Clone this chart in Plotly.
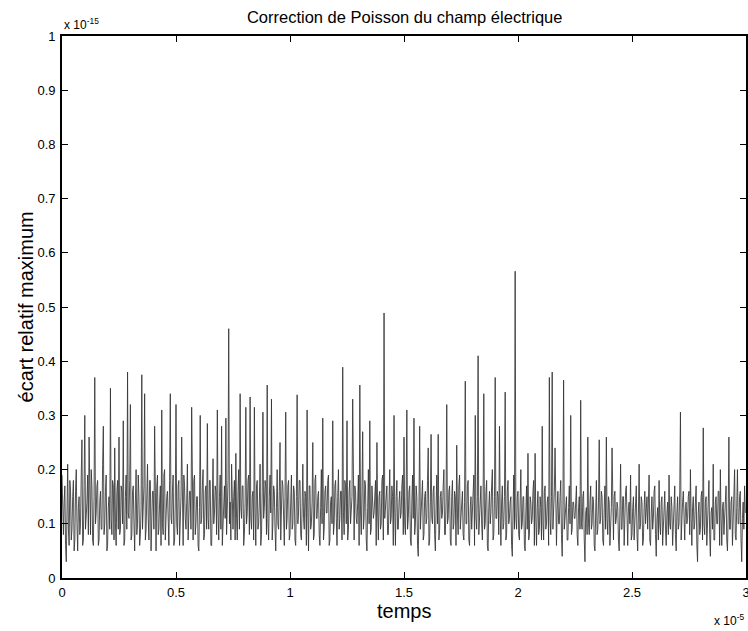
import numpy as np
import plotly.graph_objects as go

# time axis in units of 1e-5, uniform sampling step
t_start = 0.0
t_step = 0.003125
# maximum relative deviation, in units of 1e-15
ecart = [
    .19,.11, .08,.14, .17,.06, .03,.12, .21,.09, .06,.18, .16,.07, .09,.15, .18,.05, .07,.16,
    .20,.10, .05,.13, .15,.08, .10,.19, .255,.06, .07,.17, .30,.09, .11,.14, .19,.08, .26,.12,
    .08,.20, .17,.07, .06,.15, .37,.10, .12,.17, .18,.06, .07,.14, .16,.09, .09,.21, .28,.08,
    .10,.16, .19,.05, .06,.13, .15,.09, .35,.11, .08,.18, .17,.07, .24,.10, .06,.16, .18,.09,

    .26,.08, .09,.17, .16,.10, .29,.06, .07,.15, .19,.09, .38,.12, .11,.18, .32,.07, .08,.16,
    .17,.10, .05,.14, .20,.08, .10,.19, .15,.06, .08,.13, .375,.09, .13,.17, .34,.07, .09,.15,
    .21,.11, .07,.18, .18,.05, .11,.16, .16,.09, .28,.12, .05,.17, .19,.08, .09,.14, .17,.06,
    .31,.10, .08,.19, .20,.07, .12,.15, .16,.09, .06,.18, .34,.11, .10,.16, .19,.06, .07,.14,

    .32,.10, .08,.17, .18,.06, .11,.15, .26,.08, .06,.19, .17,.11, .09,.14, .21,.07, .12,.16,
    .16,.09, .315,.12, .07,.18, .19,.08, .10,.15, .15,.06, .05,.13, .30,.10, .11,.17, .20,.07,
    .08,.16, .17,.09, .285,.11, .09,.18, .18,.06, .06,.14, .22,.10, .12,.17, .16,.08, .31,.12,
    .07,.15, .19,.09, .28,.06, .10,.16, .17,.11, .295,.08, .12,.18, .46,.10, .14,.07, .21,.12,

    .09,.15, .18,.07, .23,.11, .07,.16, .20,.09, .34,.13, .11,.17, .17,.06, .08,.14, .315,.10,
    .12,.18, .19,.08, .334,.11, .09,.15, .16,.07, .315,.12, .06,.17, .18,.09, .10,.14, .21,.06,
    .08,.16, .306,.11, .13,.18, .17,.08, .356,.10, .07,.15, .19,.12, .33,.07, .10,.17, .16,.09,
    .05,.13, .20,.10, .09,.16, .25,.07, .12,.18, .17,.11, .06,.15, .306,.09, .11,.17, .18,.07,

    .08,.14, .19,.09, .10,.17, .16,.07, .06,.15, .338,.10, .12,.18, .18,.08, .07,.13, .21,.11,
    .09,.16, .15,.06, .31,.12, .05,.17, .17,.09, .10,.14, .25,.07, .08,.18, .19,.11, .11,.15,
    .16,.08, .06,.13, .20,.10, .295,.07, .09,.16, .17,.12, .12,.18, .19,.06, .07,.14, .15,.10,
    .29,.08, .10,.17, .18,.11, .06,.15, .20,.09, .11,.16, .16,.07, .389,.12, .08,.18, .17,.10,

    .29,.07, .09,.16, .18,.10, .12,.15, .33,.08, .07,.17, .16,.11, .10,.14, .19,.06, .356,.12,
    .08,.16, .27,.09, .11,.18, .17,.07, .05,.13, .20,.10, .29,.08, .09,.17, .15,.11, .12,.16,
    .18,.06, .25,.12, .07,.15, .16,.09, .10,.18, .19,.07, .489,.11, .13,.16, .17,.08, .08,.14,
    .20,.10, .11,.17, .15,.06, .30,.12, .06,.15, .18,.09, .09,.14, .16,.11, .12,.17, .19,.08,

    .26,.10, .08,.15, .31,.09, .11,.16, .17,.07, .06,.14, .19,.11, .295,.08, .10,.17, .15,.06,
    .04,.13, .28,.09, .12,.16, .18,.07, .08,.15, .16,.10, .11,.18, .24,.06, .07,.14, .265,.11,
    .10,.16, .17,.08, .05,.13, .19,.10, .265,.07, .09,.15, .16,.11, .12,.17, .20,.08, .08,.14,
    .32,.10, .11,.16, .17,.07, .06,.15, .18,.09, .10,.16, .15,.06, .245,.12, .08,.17, .19,.09,

    .11,.15, .16,.08, .07,.14, .363,.10, .10,.17, .18,.07, .06,.13, .15,.09, .12,.16, .19,.06,
    .30,.11, .09,.15, .41,.08, .11,.17, .17,.10, .07,.14, .34,.09, .10,.16, .18,.06, .05,.13,
    .16,.10, .12,.17, .20,.07, .08,.15, .37,.11, .11,.16, .15,.08, .28,.12, .06,.14, .17,.09,
    .10,.15, .343,.07, .08,.16, .18,.10, .11,.14, .15,.06, .04,.12, .19,.09, .566,.11, .09,.15,

    .16,.08, .07,.14, .20,.09, .10,.15, .15,.06, .05,.12, .17,.09, .23,.07, .08,.15, .14,.10,
    .11,.16, .18,.06, .23,.11, .06,.13, .16,.08, .09,.15, .13,.07, .28,.10, .07,.16, .17,.09,
    .10,.14, .15,.06, .37,.11, .08,.15, .38,.09, .12,.16, .24,.07, .06,.13, .16,.10, .10,.15,
    .18,.08, .04,.12, .365,.09, .11,.15, .15,.07, .07,.13, .17,.10, .30,.08, .09,.14, .14,.11,

    .11,.14, .17,.08, .06,.13, .15,.09, .328,.10, .09,.15, .16,.07, .03,.12, .13,.08, .26,.10,
    .08,.14, .17,.09, .10,.15, .14,.06, .05,.12, .18,.08, .09,.14, .255,.10, .11,.16, .15,.07,
    .06,.13, .17,.09, .26,.11, .08,.15, .14,.06, .10,.13, .24,.08, .07,.15, .16,.10, .11,.14,
    .13,.07, .05,.12, .21,.09, .09,.15, .15,.06, .12,.16, .17,.08, .06,.13, .14,.10, .19,.07,

    .08,.13, .15,.07, .11,.16, .17,.08, .05,.12, .21,.09, .10,.15, .14,.06, .07,.13, .16,.10,
    .12,.15, .09,.14, .19,.07, .06,.12, .15,.09, .11,.16, .17,.08, .04,.11, .13,.07, .18,.10,
    .08,.14, .15,.06, .10,.13, .16,.09, .06,.12, .14,.08, .19,.10, .09,.15, .13,.06, .11,.14,
    .17,.08, .05,.12, .15,.09, .10,.16, .306,.07, .12,.14, .16,.08, .07,.13, .14,.10, .11,.15,

    .16,.08, .20,.11, .06,.13, .15,.09, .10,.14, .17,.06, .03,.12, .14,.08, .09,.15, .16,.07,
    .277,.10, .08,.14, .15,.06, .11,.16, .18,.08, .04,.12, .13,.09, .21,.07, .07,.14, .15,.10,
    .10,.16, .16,.06, .20,.11, .06,.13, .14,.08, .11,.15, .17,.07, .05,.12, .26,.09, .09,.14,
    .15,.06, .12,.16, .20,.08, .07,.13, .20,.10, .10,.15, .16,.07, .03,.11, .14,.09, .17,.12,
]
temps = t_start + t_step * np.arange(len(ecart))

x_ticks = [0, 0.5, 1, 1.5, 2, 2.5, 3]
x_ticktext = ["0", "0.5", "1", "1.5", "2", "2.5", "3"]
y_ticks = [0, 0.1, 0.2, 0.3, 0.4, 0.5, 0.6, 0.7, 0.8, 0.9, 1]
y_ticktext = ["0", "0.1", "0.2", "0.3", "0.4", "0.5", "0.6", "0.7", "0.8", "0.9", "1"]

FONT = "Liberation Sans, Arial, sans-serif"

fig = go.Figure()
fig.add_trace(go.Scatter(
    x=temps, y=ecart, mode="lines",
    line=dict(color="#333333", width=0.85),
    showlegend=False, hoverinfo="skip",
))

axis_common = dict(
    showgrid=False, zeroline=False, automargin=False,
    showline=True, linecolor="black", linewidth=1.6, mirror="ticks",
    ticks="inside", ticklen=6, tickwidth=1.3, tickcolor="black",
    tickfont=dict(family=FONT, size=13, color="black"),
    ticklabeloverflow="allow",
)

fig.update_layout(
    width=748, height=631,
    margin=dict(l=62, r=2, t=36, b=53),
    paper_bgcolor="white", plot_bgcolor="white",
    font=dict(family=FONT, color="black"),
    title=dict(text="Correction de Poisson du champ électrique",
               x=0.541, xanchor="center", y=0.972, yanchor="middle",
               font=dict(family=FONT, size=16.5, color="black")),
    xaxis=dict(range=[0, 3], tickvals=x_ticks, ticktext=x_ticktext, ticklabelstandoff=2,
               **axis_common),
    yaxis=dict(range=[0, 1], tickvals=y_ticks, ticktext=y_ticktext, ticklabelstandoff=2,
               **axis_common),
)

fig.add_annotation(text="écart relatif maximum", xref="paper", yref="paper",
                   x=-0.052, y=0.5, xanchor="center", yanchor="middle", textangle=-90,
                   showarrow=False, font=dict(family=FONT, size=20, color="black"))
fig.add_annotation(text="temps", xref="paper", yref="paper",
                   x=0.5, y=0.0, xanchor="center", yanchor="middle", yshift=-33,
                   showarrow=False, font=dict(family=FONT, size=20, color="black"))
fig.add_annotation(text="x 10<sup>-15</sup>", xref="paper", yref="paper",
                   x=0.0, y=1.0, xanchor="left", yanchor="bottom", yshift=2,
                   showarrow=False, font=dict(family=FONT, size=12, color="black"))
fig.add_annotation(text="x 10<sup>-5</sup>", xref="paper", yref="paper",
                   x=1.0, y=0.0, xanchor="right", yanchor="top", yshift=-32,
                   showarrow=False, font=dict(family=FONT, size=12, color="black"))

fig.write_html("out.html")
